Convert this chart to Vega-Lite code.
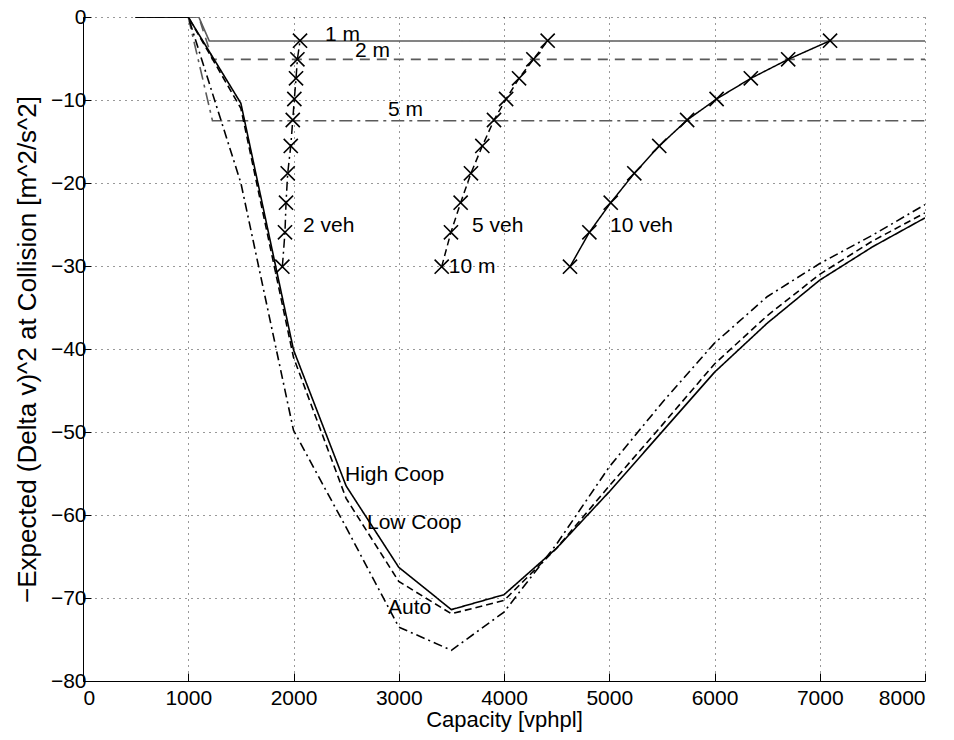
{
  "$schema": "https://vega.github.io/schema/vega-lite/v6.json",
  "width": 842,
  "height": 664,
  "autosize": {"type": "none"},
  "padding": {"left": 83, "top": 17, "right": 29, "bottom": 59},
  "background": "white",
  "config": {
    "view": {"stroke": null},
    "font": "Liberation Sans",
    "axis": {
      "domainColor": "black",
      "domainWidth": 1,
      "tickColor": "black",
      "tickSize": -8,
      "labelFont": "Liberation Sans",
      "labelFontSize": 21,
      "labelColor": "black",
      "titleFont": "Liberation Sans",
      "titleFontWeight": "normal",
      "titleColor": "black",
      "grid": true,
      "gridColor": "black",
      "gridDash": [1, 5],
      "gridWidth": 1,
      "gridOpacity": 0.8
    }
  },
  "resolve": {"scale": {"strokeDash": "independent", "strokeWidth": "independent", "color": "independent"}},
  "datasets": {
    "curves": [
      {"series": "1m", "x": 500, "y": 0}, {"series": "1m", "x": 1100, "y": 0}, {"series": "1m", "x": 1200, "y": -2.9}, {"series": "1m", "x": 8000, "y": -2.9},
      {"series": "2m", "x": 500, "y": 0}, {"series": "2m", "x": 1100, "y": 0}, {"series": "2m", "x": 1230, "y": -5.1}, {"series": "2m", "x": 8000, "y": -5.1},
      {"series": "5m", "x": 500, "y": 0}, {"series": "5m", "x": 1000, "y": 0}, {"series": "5m", "x": 1230, "y": -12.5}, {"series": "5m", "x": 8000, "y": -12.5},
      {"series": "HighCoop", "x": 500, "y": 0}, {"series": "HighCoop", "x": 1000, "y": 0}, {"series": "HighCoop", "x": 1500, "y": -10.4}, {"series": "HighCoop", "x": 2000, "y": -40.1}, {"series": "HighCoop", "x": 2500, "y": -56.5}, {"series": "HighCoop", "x": 3000, "y": -66.3}, {"series": "HighCoop", "x": 3500, "y": -71.4}, {"series": "HighCoop", "x": 4000, "y": -69.6}, {"series": "HighCoop", "x": 4500, "y": -64}, {"series": "HighCoop", "x": 5000, "y": -57.2}, {"series": "HighCoop", "x": 5500, "y": -50}, {"series": "HighCoop", "x": 6000, "y": -42.8}, {"series": "HighCoop", "x": 6500, "y": -36.9}, {"series": "HighCoop", "x": 7000, "y": -31.7}, {"series": "HighCoop", "x": 7500, "y": -27.7}, {"series": "HighCoop", "x": 8000, "y": -24.2},
      {"series": "LowCoop", "x": 500, "y": 0}, {"series": "LowCoop", "x": 1000, "y": 0}, {"series": "LowCoop", "x": 1500, "y": -11}, {"series": "LowCoop", "x": 2000, "y": -41}, {"series": "LowCoop", "x": 2500, "y": -58}, {"series": "LowCoop", "x": 3000, "y": -68}, {"series": "LowCoop", "x": 3500, "y": -71.9}, {"series": "LowCoop", "x": 4000, "y": -70.3}, {"series": "LowCoop", "x": 4500, "y": -64}, {"series": "LowCoop", "x": 5000, "y": -56.5}, {"series": "LowCoop", "x": 5500, "y": -49.2}, {"series": "LowCoop", "x": 6000, "y": -41.8}, {"series": "LowCoop", "x": 6500, "y": -36}, {"series": "LowCoop", "x": 7000, "y": -31}, {"series": "LowCoop", "x": 7500, "y": -27}, {"series": "LowCoop", "x": 8000, "y": -23.6},
      {"series": "Auto", "x": 500, "y": 0}, {"series": "Auto", "x": 1000, "y": 0}, {"series": "Auto", "x": 1500, "y": -20}, {"series": "Auto", "x": 2000, "y": -49.8}, {"series": "Auto", "x": 2500, "y": -61.5}, {"series": "Auto", "x": 3000, "y": -73.5}, {"series": "Auto", "x": 3500, "y": -76.3}, {"series": "Auto", "x": 4000, "y": -71.7}, {"series": "Auto", "x": 4500, "y": -63.5}, {"series": "Auto", "x": 5000, "y": -54.2}, {"series": "Auto", "x": 5500, "y": -46.5}, {"series": "Auto", "x": 6000, "y": -39.3}, {"series": "Auto", "x": 6500, "y": -33.7}, {"series": "Auto", "x": 7000, "y": -29.7}, {"series": "Auto", "x": 7500, "y": -26.3}, {"series": "Auto", "x": 8000, "y": -22.6}
    ],
    "veh": [
      {"series": "2veh", "x": 2062, "y": -2.86}, {"series": "2veh", "x": 2037, "y": -5.1}, {"series": "2veh", "x": 2024, "y": -7.39}, {"series": "2veh", "x": 2008, "y": -9.88}, {"series": "2veh", "x": 1993, "y": -12.41}, {"series": "2veh", "x": 1974, "y": -15.54}, {"series": "2veh", "x": 1945, "y": -18.83}, {"series": "2veh", "x": 1929, "y": -22.37}, {"series": "2veh", "x": 1919, "y": -25.94}, {"series": "2veh", "x": 1894, "y": -30.08},
      {"series": "5veh", "x": 4415, "y": -2.86}, {"series": "5veh", "x": 4279, "y": -5.1}, {"series": "5veh", "x": 4143, "y": -7.39}, {"series": "5veh", "x": 4020, "y": -9.88}, {"series": "5veh", "x": 3905, "y": -12.41}, {"series": "5veh", "x": 3794, "y": -15.54}, {"series": "5veh", "x": 3686, "y": -18.83}, {"series": "5veh", "x": 3588, "y": -22.37}, {"series": "5veh", "x": 3496, "y": -25.94}, {"series": "5veh", "x": 3408, "y": -30.08},
      {"series": "10veh", "x": 7098, "y": -2.86}, {"series": "10veh", "x": 6700, "y": -5.1}, {"series": "10veh", "x": 6345, "y": -7.39}, {"series": "10veh", "x": 6020, "y": -9.88}, {"series": "10veh", "x": 5740, "y": -12.41}, {"series": "10veh", "x": 5475, "y": -15.54}, {"series": "10veh", "x": 5238, "y": -18.83}, {"series": "10veh", "x": 5014, "y": -22.37}, {"series": "10veh", "x": 4811, "y": -25.94}, {"series": "10veh", "x": 4627, "y": -30.08}
    ],
    "labels": [
      {"text": "1 m", "x": 2299, "y": -2.2},
      {"text": "2 m", "x": 2584, "y": -4.1},
      {"text": "5 m", "x": 2898, "y": -11.2},
      {"text": "10 m", "x": 3475, "y": -30.1},
      {"text": "2 veh", "x": 2090, "y": -25.2},
      {"text": "5 veh", "x": 3696, "y": -25.2},
      {"text": "10 veh", "x": 5007, "y": -25.2},
      {"text": "High Coop", "x": 2489, "y": -55.2},
      {"text": "Low Coop", "x": 2698, "y": -61.0},
      {"text": "Auto", "x": 2898, "y": -71.2}
    ]
  },
  "encoding": {
    "x": {
      "field": "x", "type": "quantitative",
      "scale": {"domain": [0, 8000], "nice": false, "zero": false},
      "axis": {"values": [0, 1000, 2000, 3000, 4000, 5000, 6000, 7000, 8000], "format": "d", "title": "Capacity [vphpl]", "titleFontSize": 22, "labelPadding": 14, "titlePadding": 1}
    },
    "y": {
      "field": "y", "type": "quantitative",
      "scale": {"domain": [-80, 0], "nice": false, "zero": false},
      "axis": {"values": [-80, -70, -60, -50, -40, -30, -20, -10, 0], "format": "d", "title": "−Expected (Delta v)^2 at Collision [m^2/s^2]", "titleFontSize": 26, "labelPadding": 5, "titlePadding": 10}
    }
  },
  "layer": [
    {
      "data": {"name": "curves"},
      "mark": {"type": "line", "clip": true},
      "encoding": {
        "detail": {"field": "series"},
        "color": {"field": "series", "type": "nominal", "legend": null,
          "scale": {"domain": ["1m", "2m", "5m", "HighCoop", "LowCoop", "Auto"], "range": ["#5a5a5a", "#5a5a5a", "#5a5a5a", "black", "black", "black"]}},
        "strokeDash": {"field": "series", "type": "nominal", "legend": null,
          "scale": {"domain": ["1m", "2m", "5m", "HighCoop", "LowCoop", "Auto"], "range": [[1, 0], [10, 7], [13, 5, 3, 5], [1, 0], [7, 4], [9, 4, 2, 4]]}},
        "strokeWidth": {"field": "series", "type": "nominal", "legend": null,
          "scale": {"domain": ["1m", "2m", "5m", "HighCoop", "LowCoop", "Auto"], "range": [1.6, 1.6, 1.6, 1, 1, 1]}}
      }
    },
    {
      "data": {"name": "veh"},
      "mark": {"type": "line", "color": "black"},
      "encoding": {
        "detail": {"field": "series"},
        "strokeDash": {"field": "series", "type": "nominal", "legend": null,
          "scale": {"domain": ["2veh", "5veh", "10veh"], "range": [[9, 4, 2, 4], [7, 4], [1, 0]]}},
        "strokeWidth": {"field": "series", "type": "nominal", "legend": null,
          "scale": {"domain": ["2veh", "5veh", "10veh"], "range": [1.5, 1.5, 2]}}
      }
    },
    {
      "data": {"name": "veh"},
      "mark": {"type": "point", "shape": "M-1,-1L1,1M-1,1L1,-1", "filled": false, "stroke": "black", "strokeWidth": 1.6, "size": 200, "opacity": 1},
      "encoding": {}
    },
    {
      "data": {"name": "labels"},
      "mark": {"type": "text", "align": "left", "baseline": "middle", "fontSize": 21, "font": "Liberation Sans", "color": "black"},
      "encoding": {"text": {"field": "text"}}
    }
  ]
}
